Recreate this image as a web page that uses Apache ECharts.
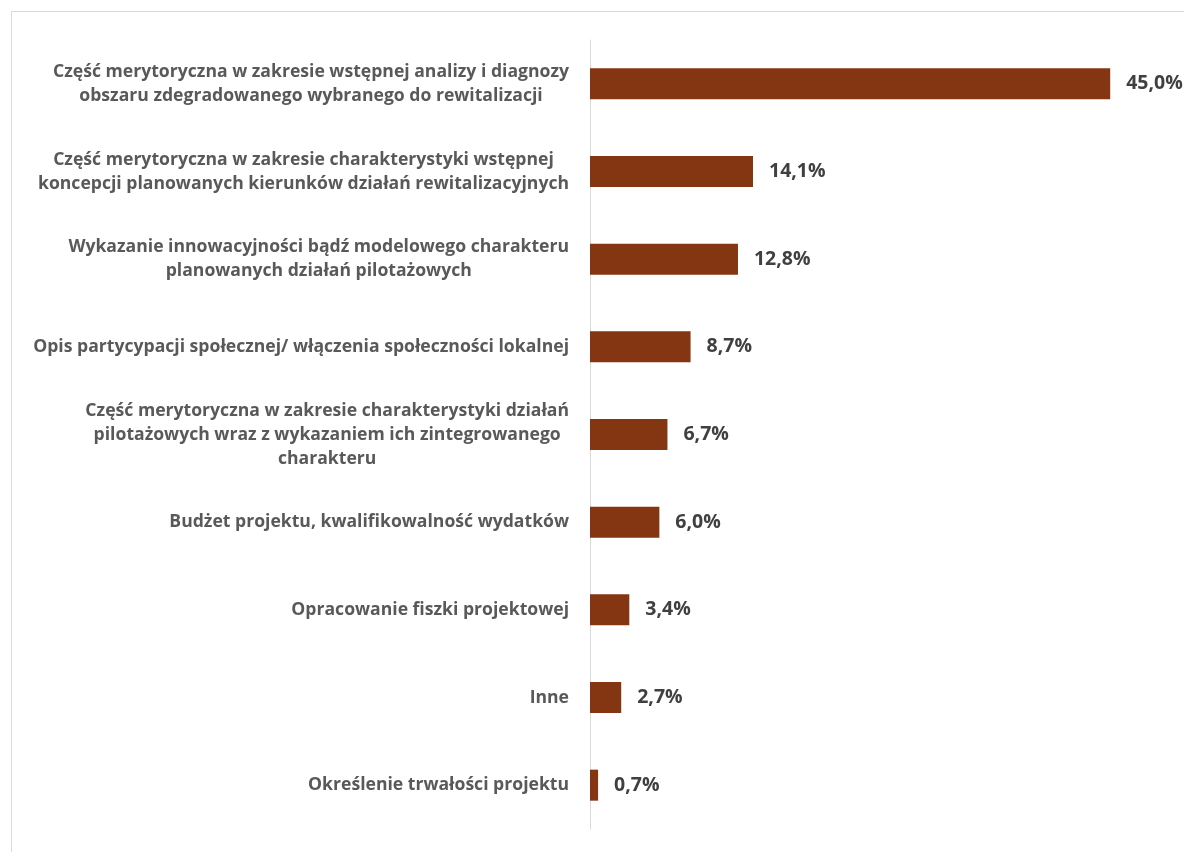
<!DOCTYPE html>
<html>
<head>
<meta charset="utf-8">
<script src="https://cdn.jsdelivr.net/npm/echarts@6/dist/echarts.min.js"></script>
<style>
html,body{margin:0;padding:0;background:#fff;}
#frame{position:absolute;left:11px;top:11px;width:1200px;height:900px;border:1px solid #d9d9d9;box-sizing:border-box;}
#chart{position:absolute;left:0;top:0;width:1184px;height:852px;}
</style>
</head>
<body>
<div id="frame"></div>
<div id="chart"></div>
<script>
const categories = [
  ["Część merytoryczna w zakresie wstępnej analizy i diagnozy", "obszaru zdegradowanego wybranego do rewitalizacji"],
  ["Część merytoryczna w zakresie charakterystyki wstępnej", "koncepcji planowanych kierunków działań rewitalizacyjnych"],
  ["Wykazanie innowacyjności bądź modelowego charakteru", "planowanych działań pilotażowych"],
  ["Opis partycypacji społecznej/ włączenia społeczności lokalnej"],
  ["Część merytoryczna w zakresie charakterystyki działań", "pilotażowych wraz z wykazaniem ich zintegrowanego", "charakteru"],
  ["Budżet projektu, kwalifikowalność wydatków"],
  ["Opracowanie fiszki projektowej"],
  ["Inne"],
  ["Określenie trwałości projektu"]
];
const values = [45.0, 14.1, 12.8, 8.7, 6.7, 6.0, 3.4, 2.7, 0.7];

const chart = echarts.init(document.getElementById('chart'));
const FONT = 'Open Sans';
chart.setOption({
  animation: false,
  grid: { left: 590, right: 16, top: 40, bottom: 23, containLabel: false },
  xAxis: {
    type: 'value', min: 0, max: 50, show: false
  },
  yAxis: {
    type: 'category',
    inverse: true,
    data: categories.map(c => c.join('\n')),
    axisLine: { show: true, lineStyle: { color: '#d9d9d9', width: 1 } },
    axisTick: { show: false },
    axisLabel: {
      margin: 21,
      align: 'right',
      formatter: v => v.split('\n').map(l => '{a|' + l + '}').join('\n'),
      rich: {
        a: { align: 'center', fontFamily: FONT, fontWeight: 'bold', fontSize: 17.6, color: '#595959', lineHeight: 24 }
      }
    }
  },
  series: [{
    type: 'bar',
    data: values,
    barWidth: 31,
    itemStyle: { color: '#843512' },
    label: {
      show: true,
      position: 'right',
      distance: 16,
      formatter: p => p.value.toFixed(1).replace('.', ',') + '%',
      fontFamily: FONT,
      fontWeight: 'bold',
      fontSize: 19.5,
      color: '#404040'
    }
  }]
});
</script>
</body>
</html>
